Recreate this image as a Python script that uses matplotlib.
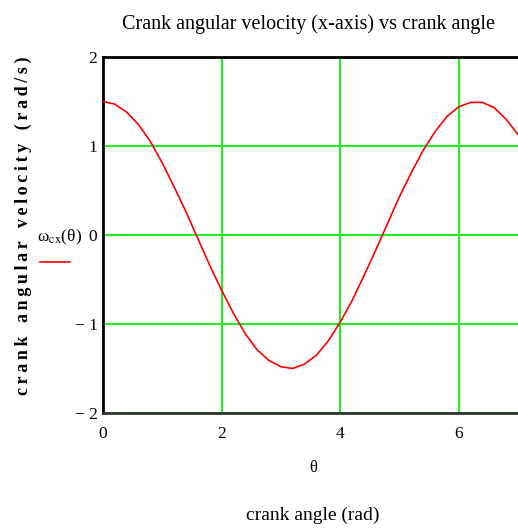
import matplotlib
matplotlib.use("Agg")
import matplotlib.pyplot as plt

# Crank angle samples (rad) and crank angular velocity, x-axis (rad/s)
theta = [0.0, 0.2, 0.4, 0.6, 0.8, 1.0, 1.2, 1.4, 1.6, 1.8,
         2.0, 2.2, 2.4, 2.6, 2.8, 3.0, 3.2, 3.4, 3.6, 3.8,
         4.0, 4.2, 4.4, 4.6, 4.8, 5.0, 5.2, 5.4, 5.6, 5.8,
         6.0, 6.2, 6.4, 6.6, 6.8, 7.0]
omega_cx = [1.50, 1.47, 1.38, 1.24, 1.05, 0.81, 0.54, 0.26, -0.04, -0.34,
            -0.62, -0.88, -1.11, -1.29, -1.41, -1.48, -1.50, -1.45, -1.35, -1.19,
            -0.98, -0.74, -0.46, -0.17, 0.13, 0.43, 0.70, 0.95, 1.16, 1.33,
            1.44, 1.49, 1.49, 1.43, 1.30, 1.13]

x_ticks = [0, 2, 4, 6]
y_ticks = [-2, -1, 0, 1, 2]
y_tick_labels = ["\u2212 2", "\u2212 1", "0", "1", "2"]

plt.rcParams["font.family"] = ["Liberation Serif", "DejaVu Serif"]
plt.rcParams["mathtext.fontset"] = "stix"

figure = plt.figure(figsize=(5.18, 5.30), dpi=100)
axis = figure.add_axes([103/518, 117/530, 415/518, 356/530])

axis.plot(theta, omega_cx, color="red", linewidth=1.2, zorder=3)

axis.set_xlim(0, 7)
axis.set_ylim(-2, 2)
axis.set_xticks(x_ticks)
axis.set_yticks(y_ticks)
axis.set_yticklabels(y_tick_labels)
axis.tick_params(length=0, labelsize=12.5)
axis.tick_params(axis="x", pad=9)
axis.tick_params(axis="y", pad=4)
axis.grid(True, color="#22ee22", linewidth=1.5)
axis.set_axisbelow(True)

for side in ["left", "top"]:
    axis.spines[side].set_linewidth(2)
    axis.spines[side].set_color("black")
axis.spines["bottom"].set_linewidth(2)
axis.spines["bottom"].set_color("#333333")
axis.spines["right"].set_visible(False)

# Title and labels
figure.text(0.596, 0.955, "Crank angular velocity (x-axis) vs crank angle",
            ha="center", va="center", fontsize=14.5)
figure.text(0.604, 0.117, "\u03b8", ha="center", va="center", fontsize=12)
figure.text(0.604, 0.027, "crank angle (rad)", ha="center", va="center", fontsize=14)

ylabel = "crank angular velocity (rad/s)"
ylabel_spaced = "   ".join("\u2009".join(word) for word in ylabel.split(" "))
figure.text(0.046, 0.574, ylabel_spaced,
            rotation=90, ha="center", va="center", fontsize=13,
            fontweight="bold")

# Legend entry, Mathcad style
figure.text(0.115, 0.553, "\u03c9$_{\\mathrm{cx}}$(\u03b8)",
            ha="center", va="center", fontsize=12.5)
figure.add_artist(plt.Line2D([40/518, 70/518], [1 - 262/530, 1 - 262/530],
                             color="red", linewidth=1.2))

figure.savefig("out.png", dpi=100)
